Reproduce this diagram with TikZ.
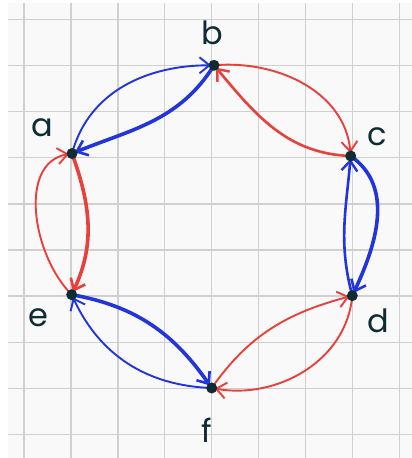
\documentclass[tikz,border=0pt]{standalone}
\usepackage{fontspec}
\setmainfont{Poppins}
\usetikzlibrary{arrows.meta}
\definecolor{gridbg}{HTML}{F9F9F9}
\definecolor{gridln}{HTML}{D0D0D0}
\definecolor{eblue}{HTML}{2234DC}
\definecolor{ered}{HTML}{E8403C}
\definecolor{dotc}{HTML}{0F2B33}
\begin{document}
\begin{tikzpicture}[x=1pt,y=1pt,
 thinE/.style={line width=1.9pt, -{Straight Barb[length=10pt,width=16pt,line width=1.9pt]}, shorten >=3pt, line cap=round},
 medE/.style={line width=2.6pt, -{Straight Barb[length=10pt,width=16pt,line width=2.4pt]}, shorten >=3pt, line cap=round},
 thickE/.style={line width=3.6pt, -{Straight Barb[length=10pt,width=16pt,line width=2.6pt]}, shorten >=3pt, line cap=round},
 dot/.style={circle, fill=dotc, inner sep=0pt, minimum size=11pt},
 lbl/.style={text=dotc, font=\fontsize{32}{32}\selectfont}]
\useasboundingbox (0,0) rectangle (412,458);
\fill[gridbg] (8,0) rectangle (412,455);
\foreach \k in {0,...,8} \draw[gridln, line width=1.4pt] ({24+46.9*\k},0) -- ({24+46.9*\k},455);
\foreach \k in {0,...,9} \draw[gridln, line width=1.4pt] (8,{438.7-46.15*\k}) -- (412,{438.7-46.15*\k});
\coordinate (a) at (72,304.5);
\coordinate (b) at (214,392.7);
\coordinate (c) at (350.7,302);
\coordinate (d) at (352.3,162.3);
\coordinate (e) at (71.7,163.3);
\coordinate (f) at (211.7,70);
\draw[eblue,thinE] (a) to[out=75,in=180] (b);
\draw[eblue,thickE] (b) to[out=-122,in=22] (a);
\draw[ered,thinE] (b) to[out=5,in=95] (c);
\draw[ered,medE] (c) to[out=178,in=-50] (b);
\draw[eblue,thickE] (c) to[out=-35,in=65] (d);
\draw[eblue,medE] (d) to[out=105,in=-95] (c);
\draw[ered,thinE] (f) to[out=55,in=195] (d);
\draw[ered,thinE] (d) to[out=-95,in=-10] (f);
\draw[eblue,thickE] (e) to[out=-10,in=125] (f);
\draw[eblue,thinE] (f) to[out=178,in=-65] (e);
\draw[ered,thickE] (a) to[out=-70,in=65] (e);
\draw[ered,thinE] (e) to[out=135,in=190] (a);
\foreach \n in {a,b,c,d,e,f} \node[dot] (dot\n) at (\n) {};
\node[lbl] (la) at (42,330) {a};
\node[lbl] (lb) at (212,425) {b};
\node[lbl] (lc) at (377,321) {c};
\node[lbl] (ld) at (378,137) {d};
\node[lbl] (le) at (38,140) {e};
\node[lbl] (lf) at (207,28) {f};
\end{tikzpicture}
\end{document}
